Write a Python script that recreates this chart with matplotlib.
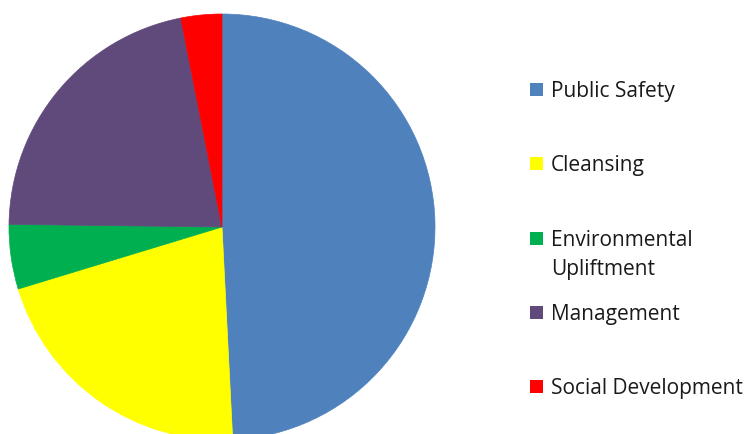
import matplotlib
matplotlib.use('Agg')
import matplotlib.pyplot as plt
from matplotlib.patches import Rectangle

# data
categories = ['Public Safety', 'Cleansing', 'Environmental\nUpliftment',
              'Management', 'Social Development']
shares = [49.2, 21.1, 4.9, 21.7, 3.1]
colors = ['#4F81BD', '#FFFF00', '#00B050', '#604A7B', '#FF0000']

W, H = 750, 435
fig = plt.figure(figsize=(W / 100, H / 100), dpi=100)

# pie: centre (222, 228) px from top-left, radius 213 px
cx, cy, r = 222, 228, 213
ax = fig.add_axes([(cx - r) / W, (H - cy - r) / H, 2 * r / W, 2 * r / H])
wedges, _ = ax.pie(shares, colors=colors, startangle=90, counterclock=False,
                   radius=1)
for w in wedges:
    w.set_edgecolor(w.get_facecolor())
    w.set_linewidth(0.5)
ax.set_xlim(-1, 1)
ax.set_ylim(-1, 1)
ax.axis('off')

# legend, drawn by hand to keep Excel-like spacing
legend_y = [90, 164, 239, 313, 387]   # centre of each marker, px from top
box = 13
line_gap = 29
for lab, col, y in zip(categories, colors, legend_y):
    fig.add_artist(Rectangle((530 / W, (H - y - box / 2) / H), box / W, box / H,
                             transform=fig.transFigure, color=col, lw=0))
    # each text line placed on its own baseline, first line level with the marker
    for i, line in enumerate(lab.split('\n')):
        fig.text(551 / W, (H - y - 7 - i * line_gap) / H, line,
                 family='Open Sans', fontsize=15, color='#1a1a1a',
                 va='baseline', ha='left')

fig.savefig('out.png', dpi=100)
